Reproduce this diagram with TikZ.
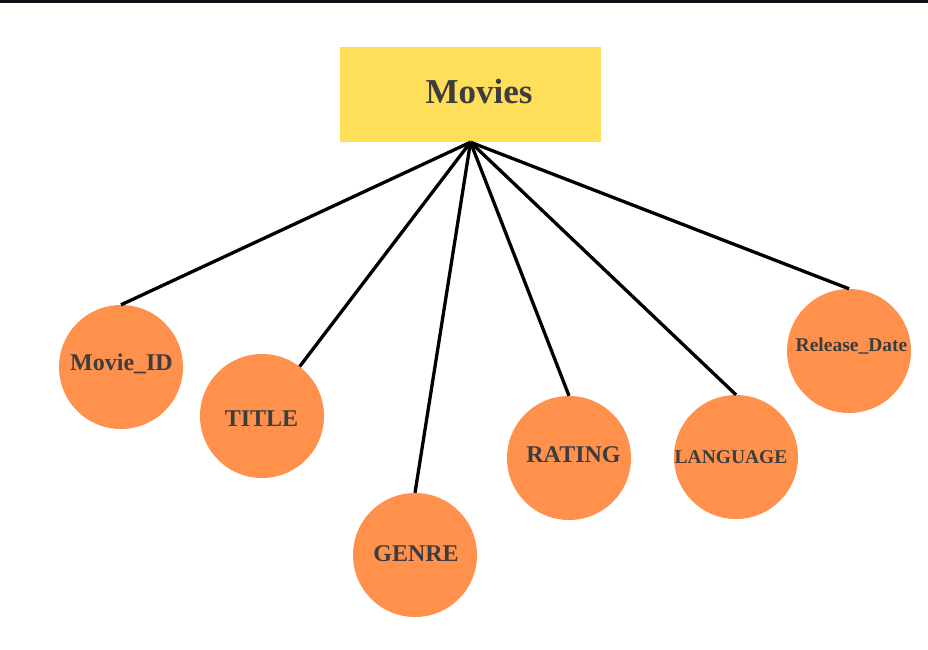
\documentclass[tikz,border=0pt]{standalone}
\usepackage{fontspec}
\setmainfont{Liberation Serif}

\definecolor{boxyellow}{HTML}{FFDE59}
\definecolor{attrorange}{HTML}{FF914D}
\definecolor{labelgray}{HTML}{3D3D3D}
\definecolor{topbar}{HTML}{0D1117}

\tikzset{
  entity/.style={rectangle,fill=boxyellow,minimum width=261pt,minimum height=95pt,inner sep=0pt},
  attr/.style={circle,fill=attrorange,minimum size=124pt,inner sep=0pt},
  attrtext/.style={anchor=base,inner sep=0pt,text=labelgray,font=\bfseries\fontsize{24}{24}\selectfont},
  smalltext/.style={attrtext,font=\bfseries\fontsize{19.5}{19.5}\selectfont},
  link/.style={line width=3.3pt,black}
}

\begin{document}
\begin{tikzpicture}[x=1pt,y=-1pt]

\useasboundingbox (0,0) rectangle (928,649);
\fill[topbar] (0,0) rectangle (928,3);

% movies entity node
\node[entity] (movies) at (470.5,94.5) {};
\node[attrtext,font=\bfseries\fontsize{35}{35}\selectfont] (movies text) at (479,103) {Movies};

% attribute nodes
\node[attr] (movieid) at (121,367) {};
\node[attrtext] (movieid text) at (121.5,370) {Movie\_ID};

\node[attr] (title) at (262,416) {};
\node[attrtext] (title text) at (261.5,426) {TITLE};

\node[attr] (genre) at (415,555) {};
\node[attrtext] (genre text) at (416,561) {GENRE};

\node[attr] (rating) at (569,458) {};
\node[attrtext] (rating text) at (573.5,462) {RATING};

\node[attr] (language) at (736,457) {};
\node[smalltext] (language text) at (731,463) {LANGUAGE};

\node[attr] (release) at (849,351) {};
\node[smalltext] (release text) at (851.5,351) {Release\_Date};

% connectors
\draw[link] (movies.south) -- (movieid.north);
\draw[link] (movies.south) -- (title);
\draw[link] (movies.south) -- (genre.north);
\draw[link] (movies.south) -- (rating.north);
\draw[link] (movies.south) -- (language.north);
\draw[link] (movies.south) -- (release.north);

\end{tikzpicture}
\end{document}
